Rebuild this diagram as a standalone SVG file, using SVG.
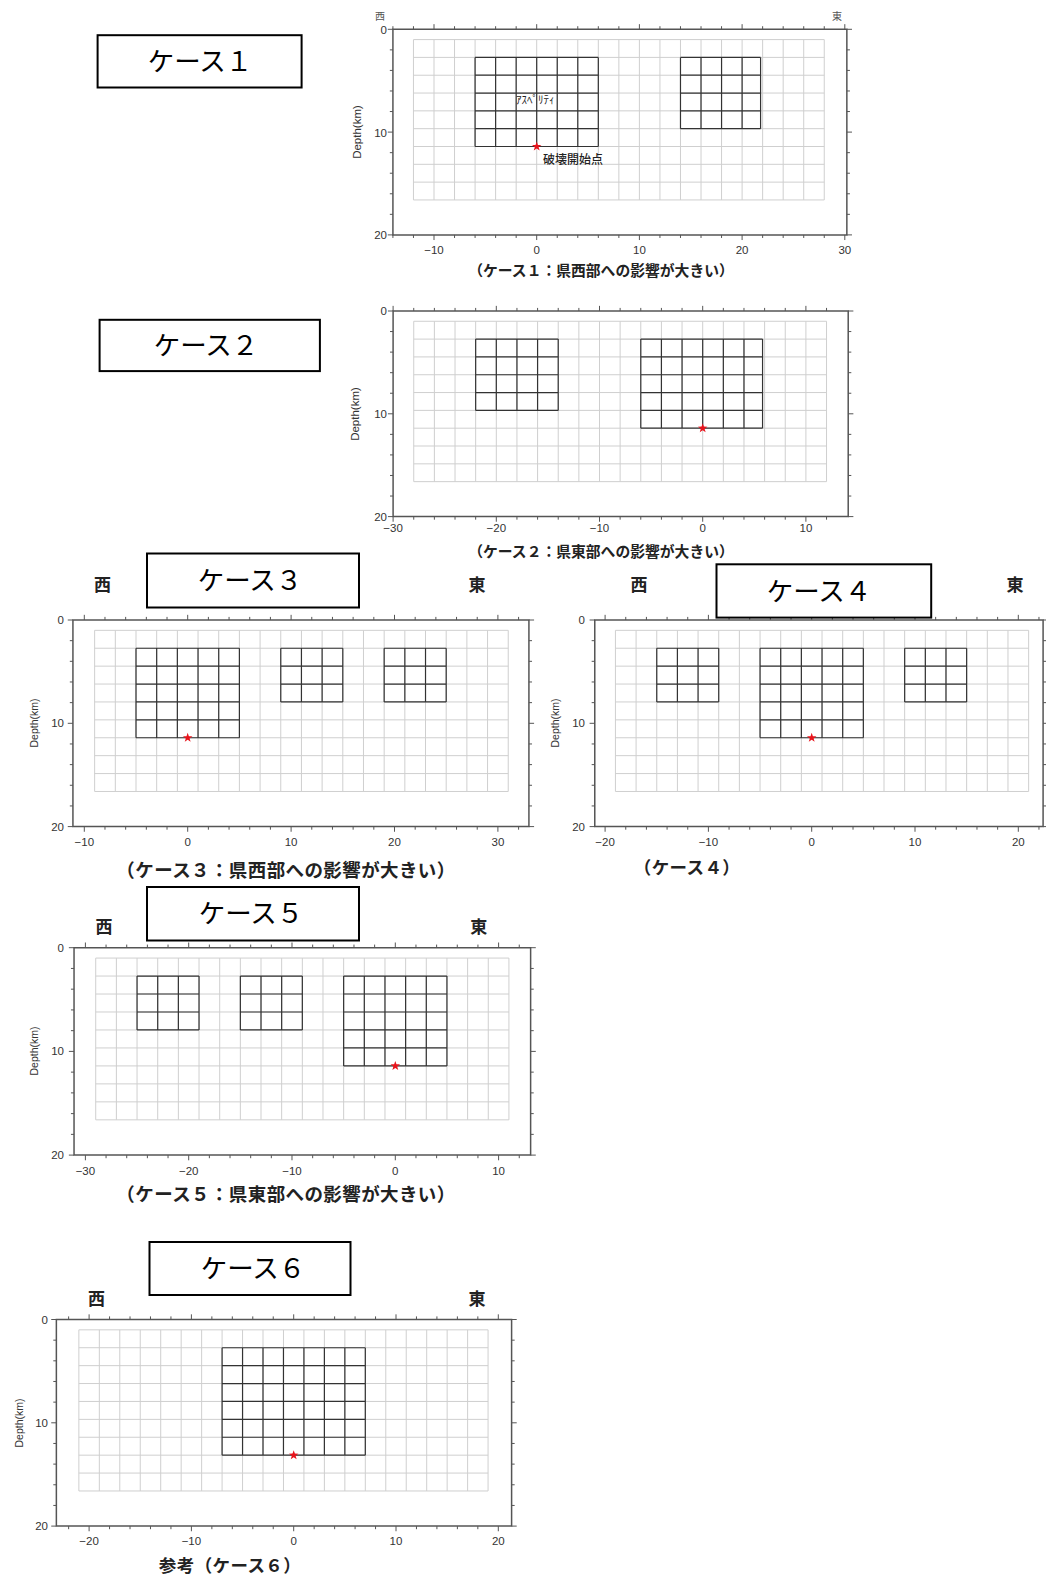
<svg xmlns="http://www.w3.org/2000/svg" xmlns:xlink="http://www.w3.org/1999/xlink" width="1046" height="1577" viewBox="0 0 1046 1577">
<style>
.fr{fill:none;stroke:#555;stroke-width:1.5;vector-effect:non-scaling-stroke}
.tk{fill:none;stroke:#555;stroke-width:1;vector-effect:non-scaling-stroke}
.gr{fill:none;stroke:#cfcfcf;stroke-width:1;vector-effect:non-scaling-stroke}
.as{fill:none;stroke:#333;stroke-width:1.2;vector-effect:non-scaling-stroke}
.box{fill:#fff;stroke:#000;stroke-width:2}
.ttl{font-family:"Noto Sans CJK JP",sans-serif;font-size:26.5px;text-anchor:middle;fill:#000}
.dir{font-family:"Noto Sans CJK JP",sans-serif;font-size:17px;font-weight:bold;text-anchor:middle;fill:#222}
.dirs{font-family:"Noto Sans CJK JP",sans-serif;font-size:10px;text-anchor:middle;fill:#555}
.tl{font-family:"Liberation Sans",Arial,sans-serif;font-size:11.5px;fill:#333;text-anchor:middle}
.yl{font-family:"Liberation Sans",Arial,sans-serif;font-size:11.5px;fill:#333;text-anchor:end}
.ax{font-family:"Liberation Sans",Arial,sans-serif;font-size:10.5px;fill:#333;text-anchor:middle}
.cap{font-family:"Noto Sans CJK JP",sans-serif;font-weight:bold;font-size:18.5px;letter-spacing:.4px;text-anchor:middle;fill:#222}
.caps{font-family:"Noto Sans CJK JP",sans-serif;font-weight:bold;font-size:14.8px;text-anchor:middle;fill:#222}
.lab{font-family:"Noto Sans CJK JP",sans-serif;font-size:11px;fill:#222}
.st{fill:#e8141c}
</style>
<defs>
<path id="grid" class="gr" d="M0 1V16.6M2 1V16.6M4 1V16.6M6 1V16.6M8 1V16.6M10 1V16.6M12 1V16.6M14 1V16.6M16 1V16.6M18 1V16.6M20 1V16.6M22 1V16.6M24 1V16.6M26 1V16.6M28 1V16.6M30 1V16.6M32 1V16.6M34 1V16.6M36 1V16.6M38 1V16.6M40 1V16.6M0 1H40M0 2.733H40M0 4.467H40M0 6.2H40M0 7.933H40M0 9.667H40M0 11.4H40M0 13.133H40M0 14.867H40M0 16.6H40"/>
<path id="ytl" class="tk" d="M0 0h-.5M0 2h-.3M0 4h-.3M0 6h-.3M0 8h-.3M0 10h-.5M0 12h-.3M0 14h-.3M0 16h-.3M0 18h-.3M0 20h-.5"/>
<path id="ytr" class="tk" d="M0 0h.5M0 2h.3M0 4h.3M0 6h.3M0 8h.3M0 10h.5M0 12h.3M0 14h.3M0 16h.3M0 18h.3M0 20h.5"/>
<path id="a3" class="as" d="M0 2.733H6M0 4.467H6M0 6.2H6M0 7.933H6M0 2.733V7.933M2 2.733V7.933M4 2.733V7.933M6 2.733V7.933"/>
<path id="a5" class="as" d="M0 2.733H10M0 4.467H10M0 6.2H10M0 7.933H10M0 9.667H10M0 11.4H10M0 2.733V11.4M2 2.733V11.4M4 2.733V11.4M6 2.733V11.4M8 2.733V11.4M10 2.733V11.4"/>
<path id="star" class="st" d="M0-5L1.176-1.618L4.755-1.545L1.902 .618L2.939 4.045L0 2L-2.939 4.045L-1.902 .618L-4.755-1.545L-1.176-1.618Z"/>
</defs>
<rect width="1046" height="1577" fill="#fff"/>

<g id="case1">
<g id="case1-title"><rect class="box" x="97.6" y="35.2" width="204" height="52.3"/><text class="ttl" x="200" y="70.5">ケース１</text></g>
<text class="dirs" x="380" y="20">西</text><text class="dirs" x="837" y="20">東</text>
<g transform="translate(536.7 29.3) scale(10.27 10.28)">
<use xlink:href="#grid" x="-12"/>
<path class="as" d="M-6 2.733H6M-6 4.467H6M-6 6.2H6M-6 7.933H6M-6 9.667H6M-6 11.4H6M-6 2.733V11.4M-4 2.733V11.4M-2 2.733V11.4M0 2.733V11.4M2 2.733V11.4M4 2.733V11.4M6 2.733V11.4"/>
<path class="as" d="M14 2.733H21.8M14 4.467H21.8M14 6.2H21.8M14 7.933H21.8M14 9.667H21.8M14 2.733V9.667M16 2.733V9.667M18 2.733V9.667M20 2.733V9.667M21.8 2.733V9.667"/>
<rect class="fr" x="-14" y="0" width="44.2" height="20"/>
<use xlink:href="#ytl" x="-14"/><use xlink:href="#ytr" x="30.2"/>
<path class="tk" d="M-14-.3V0M-14 20v.3M-12-.3V0M-12 20v.3M-10-.5V0M-10 20v.5M-8-.3V0M-8 20v.3M-6-.3V0M-6 20v.3M-4-.3V0M-4 20v.3M-2-.3V0M-2 20v.3M0-.5V0M0 20v.5M2-.3V0M2 20v.3M4-.3V0M4 20v.3M6-.3V0M6 20v.3M8-.3V0M8 20v.3M10-.5V0M10 20v.5M12-.3V0M12 20v.3M14-.3V0M14 20v.3M16-.3V0M16 20v.3M18-.3V0M18 20v.3M20-.5V0M20 20v.5M22-.3V0M22 20v.3M24-.3V0M24 20v.3M26-.3V0M26 20v.3M28-.3V0M28 20v.3M30-.5V0M30 20v.5"/>
</g>
<use xlink:href="#star" x="536.7" y="146.5"/>
<text class="lab" x="516" y="104">ｱｽﾍﾟﾘﾃｨ</text>
<text class="lab" x="543" y="163.5" style="font-size:12px;font-weight:500">破壊開始点</text>
<text class="yl" x="387" y="33.5">0</text><text class="yl" x="387" y="136.5">10</text><text class="yl" x="387" y="239">20</text>
<text class="tl" x="434" y="254">−10</text><text class="tl" x="536.7" y="254">0</text><text class="tl" x="639.4" y="254">10</text><text class="tl" x="742.1" y="254">20</text><text class="tl" x="844.8" y="254">30</text>
<text class="ax" transform="translate(361 132) rotate(-90)" style="font-size:11.5px">Depth(km)</text>
<text class="caps" x="601" y="275.5">（ケース１：県西部への影響が大きい）</text>
</g>

<g id="case2">
<g id="case2-title"><rect class="box" x="99.6" y="319.8" width="220.3" height="51.3"/><text class="ttl" x="206" y="355">ケース２</text></g>
<g transform="translate(702.7 311) scale(10.32 10.28)">
<use xlink:href="#grid" x="-28"/>
<path class="as" d="M-22 2.733H-14M-22 4.467H-14M-22 6.2H-14M-22 7.933H-14M-22 9.667H-14M-22 2.733V9.667M-20 2.733V9.667M-18 2.733V9.667M-16 2.733V9.667M-14 2.733V9.667"/>
<path class="as" d="M-6 2.733H5.8M-6 4.467H5.8M-6 6.2H5.8M-6 7.933H5.8M-6 9.667H5.8M-6 11.4H5.8M-6 2.733V11.4M-4 2.733V11.4M-2 2.733V11.4M0 2.733V11.4M2 2.733V11.4M4 2.733V11.4M5.8 2.733V11.4"/>
<rect class="fr" x="-30" y="0" width="44.1" height="20"/>
<use xlink:href="#ytl" x="-30"/><use xlink:href="#ytr" x="14.1"/>
<path class="tk" d="M-30-.5V0M-30 20v.5M-28-.3V0M-28 20v.3M-26-.3V0M-26 20v.3M-24-.3V0M-24 20v.3M-22-.3V0M-22 20v.3M-20-.5V0M-20 20v.5M-18-.3V0M-18 20v.3M-16-.3V0M-16 20v.3M-14-.3V0M-14 20v.3M-12-.3V0M-12 20v.3M-10-.5V0M-10 20v.5M-8-.3V0M-8 20v.3M-6-.3V0M-6 20v.3M-4-.3V0M-4 20v.3M-2-.3V0M-2 20v.3M0-.5V0M0 20v.5M2-.3V0M2 20v.3M4-.3V0M4 20v.3M6-.3V0M6 20v.3M8-.3V0M8 20v.3M10-.5V0M10 20v.5M12-.3V0M12 20v.3"/>
</g>
<use xlink:href="#star" x="702.7" y="428.2"/>
<text class="yl" x="387" y="315">0</text><text class="yl" x="387" y="418">10</text><text class="yl" x="387" y="521">20</text>
<text class="tl" x="393.1" y="532">−30</text><text class="tl" x="496.3" y="532">−20</text><text class="tl" x="599.5" y="532">−10</text><text class="tl" x="702.7" y="532">0</text><text class="tl" x="805.9" y="532">10</text>
<text class="ax" transform="translate(359 414) rotate(-90)" style="font-size:11.5px">Depth(km)</text>
<text class="caps" x="601" y="557">（ケース２：県東部への影響が大きい）</text>
</g>

<g id="case3">
<g id="case3-title"><rect class="box" x="147" y="553.5" width="212" height="54"/><text class="ttl" x="250" y="590">ケース３</text></g>
<text class="dir" x="102.6" y="591">西</text><text class="dir" x="477" y="591">東</text>
<g transform="translate(187.7 620) scale(10.34 10.33)">
<use xlink:href="#grid" x="-9"/>
<use xlink:href="#a5" x="-5"/><use xlink:href="#a3" x="9"/><use xlink:href="#a3" x="19"/>
<rect class="fr" x="-11.1" y="0" width="44.1" height="20"/>
<use xlink:href="#ytl" x="-11.1"/><use xlink:href="#ytr" x="33"/>
<path class="tk" d="M-10-.5V0M-10 20v.5M-8-.3V0M-8 20v.3M-6-.3V0M-6 20v.3M-4-.3V0M-4 20v.3M-2-.3V0M-2 20v.3M0-.5V0M0 20v.5M2-.3V0M2 20v.3M4-.3V0M4 20v.3M6-.3V0M6 20v.3M8-.3V0M8 20v.3M10-.5V0M10 20v.5M12-.3V0M12 20v.3M14-.3V0M14 20v.3M16-.3V0M16 20v.3M18-.3V0M18 20v.3M20-.5V0M20 20v.5M22-.3V0M22 20v.3M24-.3V0M24 20v.3M26-.3V0M26 20v.3M28-.3V0M28 20v.3M30-.5V0M30 20v.5M32-.3V0M32 20v.3"/>
</g>
<use xlink:href="#star" x="187.7" y="737.8"/>
<text class="yl" x="64" y="624">0</text><text class="yl" x="64" y="727.3">10</text><text class="yl" x="64" y="830.6">20</text>
<text class="tl" x="84.3" y="846">−10</text><text class="tl" x="187.7" y="846">0</text><text class="tl" x="291.1" y="846">10</text><text class="tl" x="394.5" y="846">20</text><text class="tl" x="497.9" y="846">30</text>
<text class="ax" transform="translate(38 723) rotate(-90)">Depth(km)</text>
<text class="cap" x="286" y="877">（ケース３：県西部への影響が大きい）</text>
</g>

<g id="case4">
<text class="dir" x="639" y="591">西</text><text class="dir" x="1015" y="591">東</text>
<g transform="translate(811.7 620) scale(10.33 10.33)">
<use xlink:href="#grid" x="-19"/>
<use xlink:href="#a3" x="-15"/><use xlink:href="#a5" x="-5"/><use xlink:href="#a3" x="9"/>
<rect class="fr" x="-21" y="0" width="43.4" height="20"/>
<use xlink:href="#ytl" x="-21"/><use xlink:href="#ytr" x="22.4"/>
<path class="tk" d="M-20-.5V0M-20 20v.5M-18-.3V0M-18 20v.3M-16-.3V0M-16 20v.3M-14-.3V0M-14 20v.3M-12-.3V0M-12 20v.3M-10-.5V0M-10 20v.5M-8-.3V0M-8 20v.3M-6-.3V0M-6 20v.3M-4-.3V0M-4 20v.3M-2-.3V0M-2 20v.3M0-.5V0M0 20v.5M2-.3V0M2 20v.3M4-.3V0M4 20v.3M6-.3V0M6 20v.3M8-.3V0M8 20v.3M10-.5V0M10 20v.5M12-.3V0M12 20v.3M14-.3V0M14 20v.3M16-.3V0M16 20v.3M18-.3V0M18 20v.3M20-.5V0M20 20v.5M22-.3V0M22 20v.3"/>
</g>
<g id="case4-title"><rect class="box" x="716.5" y="564.3" width="214.7" height="53.3"/><text class="ttl" x="819" y="600.5">ケース４</text></g>
<use xlink:href="#star" x="811.7" y="737.8"/>
<text class="yl" x="585" y="624">0</text><text class="yl" x="585" y="727.3">10</text><text class="yl" x="585" y="830.6">20</text>
<text class="tl" x="605.1" y="846">−20</text><text class="tl" x="708.4" y="846">−10</text><text class="tl" x="811.7" y="846">0</text><text class="tl" x="915" y="846">10</text><text class="tl" x="1018.3" y="846">20</text>
<text class="ax" transform="translate(558.5 723) rotate(-90)">Depth(km)</text>
<text class="cap" x="687" y="874" style="font-size:17.5px">（ケース４）</text>
</g>

<g id="case5">
<g id="case5-title"><rect class="box" x="147" y="887" width="212" height="53.5"/><text class="ttl" x="251" y="923">ケース５</text></g>
<text class="dir" x="104" y="932.7">西</text><text class="dir" x="478.7" y="932.7">東</text>
<g transform="translate(395.3 947.7) scale(10.33 10.37)">
<use xlink:href="#grid" x="-29"/>
<use xlink:href="#a3" x="-25"/><use xlink:href="#a3" x="-15"/><use xlink:href="#a5" x="-5"/>
<rect class="fr" x="-31.1" y="0" width="44.2" height="20"/>
<use xlink:href="#ytl" x="-31.1"/><use xlink:href="#ytr" x="13.1"/>
<path class="tk" d="M-30-.5V0M-30 20v.5M-28-.3V0M-28 20v.3M-26-.3V0M-26 20v.3M-24-.3V0M-24 20v.3M-22-.3V0M-22 20v.3M-20-.5V0M-20 20v.5M-18-.3V0M-18 20v.3M-16-.3V0M-16 20v.3M-14-.3V0M-14 20v.3M-12-.3V0M-12 20v.3M-10-.5V0M-10 20v.5M-8-.3V0M-8 20v.3M-6-.3V0M-6 20v.3M-4-.3V0M-4 20v.3M-2-.3V0M-2 20v.3M0-.5V0M0 20v.5M2-.3V0M2 20v.3M4-.3V0M4 20v.3M6-.3V0M6 20v.3M8-.3V0M8 20v.3M10-.5V0M10 20v.5M12-.3V0M12 20v.3"/>
</g>
<use xlink:href="#star" x="395.3" y="1065.9"/>
<text class="yl" x="64" y="951.7">0</text><text class="yl" x="64" y="1055.4">10</text><text class="yl" x="64" y="1159.1">20</text>
<text class="tl" x="85.4" y="1175">−30</text><text class="tl" x="188.7" y="1175">−20</text><text class="tl" x="292" y="1175">−10</text><text class="tl" x="395.3" y="1175">0</text><text class="tl" x="498.6" y="1175">10</text>
<text class="ax" transform="translate(38 1051) rotate(-90)">Depth(km)</text>
<text class="cap" x="286" y="1200.5">（ケース５：県東部への影響が大きい）</text>
</g>

<g id="case6">
<g id="case6-title"><rect class="box" x="149.5" y="1242" width="201" height="53"/><text class="ttl" x="253" y="1278">ケース６</text></g>
<text class="dir" x="96.5" y="1305">西</text><text class="dir" x="477" y="1305">東</text>
<g transform="translate(293.7 1319.5) scale(10.23 10.33)">
<use xlink:href="#grid" x="-21"/>
<path class="as" d="M-7 2.733H7M-7 4.467H7M-7 6.2H7M-7 7.933H7M-7 9.667H7M-7 11.4H7M-7 13.133H7M-7 2.733V13.133M-5 2.733V13.133M-3 2.733V13.133M-1 2.733V13.133M1 2.733V13.133M3 2.733V13.133M5 2.733V13.133M7 2.733V13.133"/>
<rect class="fr" x="-23.2" y="0" width="44.5" height="20"/>
<use xlink:href="#ytl" x="-23.2"/><use xlink:href="#ytr" x="21.3"/>
<path class="tk" d="M-22-.3V0M-22 20v.3M-20-.5V0M-20 20v.5M-18-.3V0M-18 20v.3M-16-.3V0M-16 20v.3M-14-.3V0M-14 20v.3M-12-.3V0M-12 20v.3M-10-.5V0M-10 20v.5M-8-.3V0M-8 20v.3M-6-.3V0M-6 20v.3M-4-.3V0M-4 20v.3M-2-.3V0M-2 20v.3M0-.5V0M0 20v.5M2-.3V0M2 20v.3M4-.3V0M4 20v.3M6-.3V0M6 20v.3M8-.3V0M8 20v.3M10-.5V0M10 20v.5M12-.3V0M12 20v.3M14-.3V0M14 20v.3M16-.3V0M16 20v.3M18-.3V0M18 20v.3M20-.5V0M20 20v.5"/>
</g>
<use xlink:href="#star" x="293.7" y="1455.2"/>
<text class="yl" x="48" y="1323.5">0</text><text class="yl" x="48" y="1426.8">10</text><text class="yl" x="48" y="1530.1">20</text>
<text class="tl" x="89.1" y="1545">−20</text><text class="tl" x="191.4" y="1545">−10</text><text class="tl" x="293.7" y="1545">0</text><text class="tl" x="396" y="1545">10</text><text class="tl" x="498.3" y="1545">20</text>
<text class="ax" transform="translate(22.5 1423) rotate(-90)">Depth(km)</text>
<text class="cap" x="230" y="1572" style="font-size:17.5px">参考（ケース６）</text>
</g>
</svg>
